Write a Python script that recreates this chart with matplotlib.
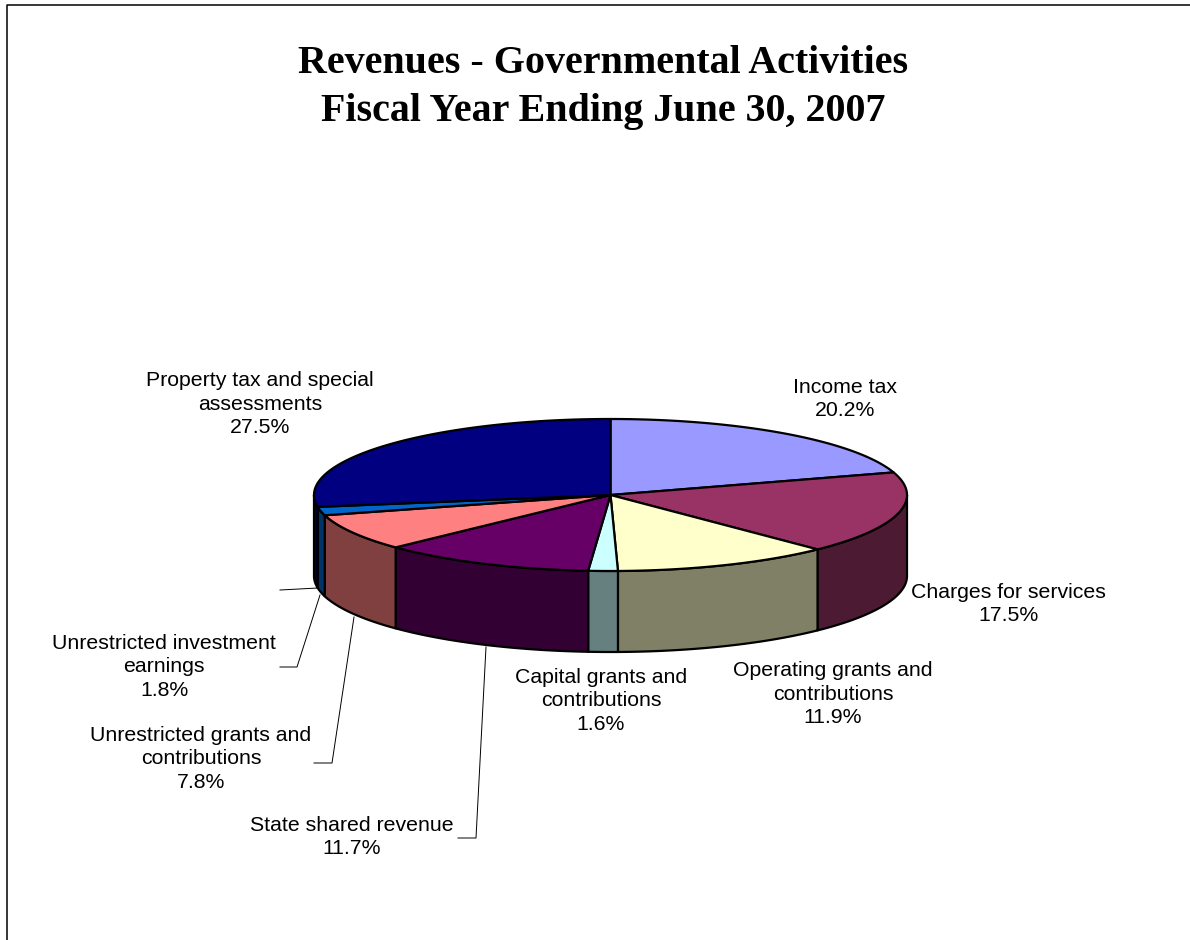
#!/usr/bin/env python

import numpy as np
import matplotlib
matplotlib.use("Agg")
import matplotlib.pyplot as plt

# Slices, clockwise from 12 o'clock
labels = ["Income tax", "Charges for services", "Operating grants and\ncontributions",
          "Capital grants and\ncontributions", "State shared revenue",
          "Unrestricted grants and\ncontributions", "Unrestricted investment\nearnings",
          "Property tax and special\nassessments"]
values = [20.2, 17.5, 11.9, 1.6, 11.7, 7.8, 1.8, 27.5]
top_colors = ["#9999FF", "#993366", "#FFFFCC", "#CCFFFF", "#660066", "#FF8080", "#0066CC", "#000080"]
side_colors = ["#4D4D80", "#4D1A33", "#808066", "#668080", "#330033", "#804040", "#003366", "#000040"]

# Label centres in pixels
label_x = [845, 1008, 833, 601, 352, 201, 164, 260]
label_y = [399, 604, 694, 701, 837, 759, 667, 404]

# Leader lines in pixels
leaders = [([280, 318], [590, 588]),
           ([320, 297, 280], [595, 667, 667]),
           ([354, 332, 314], [617, 763, 763]),
           ([486, 476, 458], [647, 838, 838])]

# Pie geometry in pixels
cx, cy = 610.5, 495
rx, ry = 296.5, 76
depth = 81

plt.rcParams["font.family"] = ["Liberation Sans", "DejaVu Sans"]

fig = plt.figure(figsize=(11.9, 9.4), dpi=100)
ax = fig.add_axes([0, 0, 1, 1])
ax.set_xlim(0, 1190)
ax.set_ylim(940, 0)
ax.axis("off")


def rim(a0, a1):
    t = np.radians(np.linspace(a0, a1, 200))
    return cx + rx * np.sin(t), cy - ry * np.cos(t)


# Chart frame, only left and top are in the picture
ax.plot([7, 7, 1190], [940, 5, 5], color="black", lw=1.1, zorder=1)

angles = np.concatenate([[0], np.cumsum(values) / np.sum(values) * 360])

# Side walls, only the front half shows
for i in range(len(values)):
    a0 = max(angles[i], 90)
    a1 = min(angles[i + 1], 270)
    if a1 <= a0:
        continue
    x, y = rim(a0, a1)
    ax.fill(np.r_[x, x[::-1]], np.r_[y, y[::-1] + depth], facecolor=side_colors[i],
            edgecolor="black", lw=1.6, joinstyle="round", zorder=2)

# Top face
for i in range(len(values)):
    x, y = rim(angles[i], angles[i + 1])
    ax.fill(np.r_[cx, x], np.r_[cy, y], facecolor=top_colors[i],
            edgecolor="black", lw=1.6, joinstyle="round", zorder=3)

for lx, ly in leaders:
    ax.plot(lx, ly, color="black", lw=0.7, zorder=1)

for i in range(len(values)):
    ax.text(label_x[i], label_y[i], "%s\n%.1f%%" % (labels[i], values[i]), ha="center", va="center",
            fontsize=15.3, linespacing=1.33, color="black", zorder=4)

ax.text(603, 87.5, "Revenues - Governmental Activities\nFiscal Year Ending June 30, 2007", ha="center", va="center",
        family=["Liberation Serif", "DejaVu Serif"], weight="bold", fontsize=28.8, linespacing=1.38, color="black")

fig.savefig("out.png", dpi=100)
